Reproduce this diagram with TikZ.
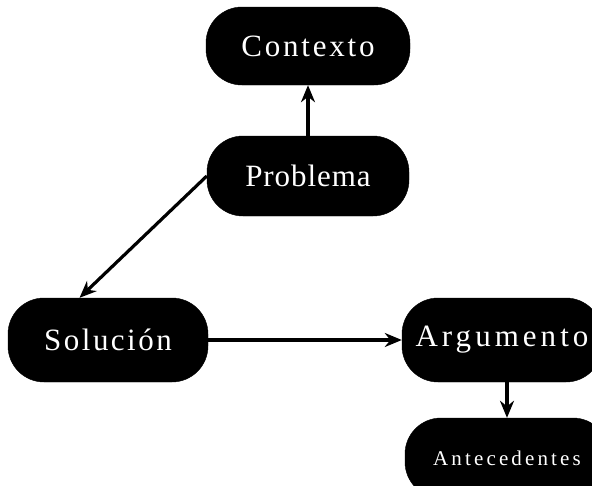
\documentclass[tikz,border=0pt]{standalone}
\usepackage{fontspec}
\newfontfamily\pillfont{Liberation Serif}
\usetikzlibrary{arrows.meta}
% label font: size and letter spacing
\newcommand\pilltext[2]{\pillfont\fontsize{#1}{#1}\selectfont\addfontfeature{LetterSpace=#2}}
\begin{document}
\begin{tikzpicture}[x=1pt,y=-1pt,
  pill/.style={fill=black, draw=black, rounded corners=36pt, inner sep=0pt,
    text=white, font=\pilltext{31}{9}},
  link/.style={line width=3.2pt, -{Stealth[length=17pt,width=14pt]}}]
  \useasboundingbox (0,0) rectangle (592,485);
  \node[pill, minimum width=204pt, minimum height=78pt] (ctx) at (308,46) {Contexto};
  \node[pill, minimum width=202pt, minimum height=80pt, font=\pilltext{31}{3}] (prob) at (308,176) {Problema};
  \node[pill, minimum width=200pt, minimum height=84pt, font=\pilltext{31}{8}] (sol) at (108,340) {Solución};
  \node[pill, minimum width=200pt, minimum height=84pt, font=\pilltext{31}{13}] (arg) at (502,340) {Argumento};
  \node[pill, minimum width=204pt, minimum height=80pt, font=\pilltext{21}{15}] (ant) at (507,458) {Antecedentes};
  \draw[link] (prob.north) -- (ctx.south);
  \draw[link] (prob.west) -- (sol.124);
  \draw[link] (sol.east) -- (arg.west);
  \draw[link] (arg.south -| ant.north) -- (ant.north);
\end{tikzpicture}
\end{document}
